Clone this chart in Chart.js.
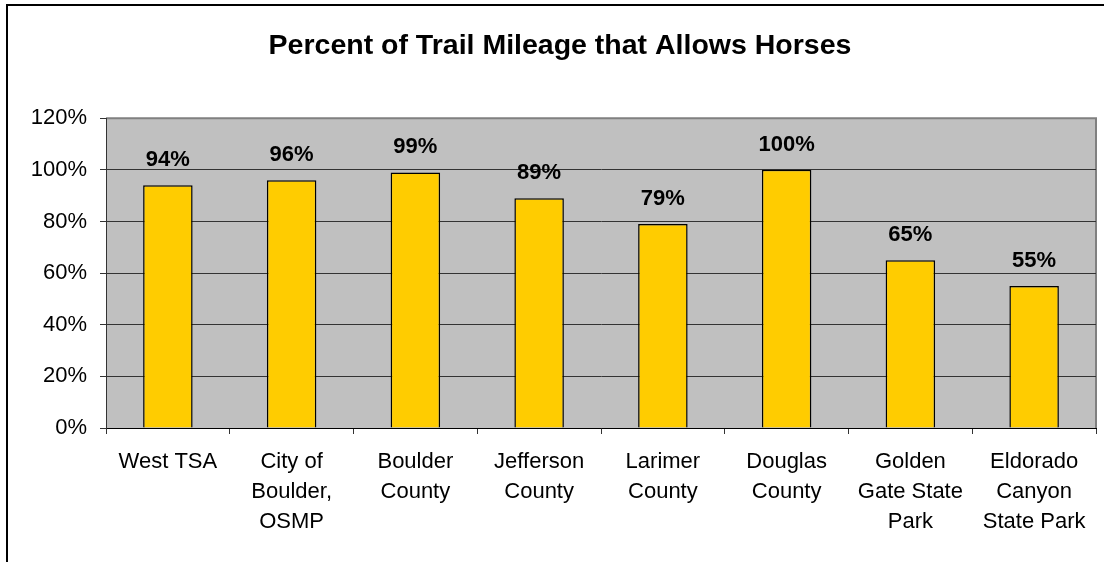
<!DOCTYPE html>
<html>
<head>
<meta charset="utf-8">
<script src="https://cdn.jsdelivr.net/npm/chart.js@4/dist/chart.umd.min.js"></script>
<style>
  body { margin: 0; background: #fff; }
  #frame { position: absolute; left: 6px; top: 4px; width: 1200px; height: 700px;
           border-left: 2px solid #000; border-top: 2px solid #000; }
  #c { position: absolute; left: 0; top: 0; }
</style>
</head>
<body>
<div id="frame"></div>
<canvas id="c" width="1104" height="562"></canvas>
<script>
// -- data --
const categories = [
  ['West TSA'],
  ['City of', 'Boulder,', 'OSMP'],
  ['Boulder', 'County'],
  ['Jefferson', 'County'],
  ['Larimer', 'County'],
  ['Douglas', 'County'],
  ['Golden', 'Gate State', 'Park'],
  ['Eldorado', 'Canyon', 'State Park']
];
const percentHorses = [94, 96, 99, 89, 79, 100, 65, 55];
const yTicks = [0, 20, 40, 60, 80, 100, 120];

Chart.defaults.font.family = '"Liberation Sans", Arial, sans-serif';
Chart.defaults.color = '#000';

// gray plot background + border
const plotBg = {
  id: 'plotBg',
  beforeDraw(chart) {
    const { ctx, chartArea: a } = chart;
    ctx.save();
    ctx.fillStyle = '#C0C0C0';
    ctx.fillRect(a.left, a.top, a.right - a.left, a.bottom - a.top);
    ctx.strokeStyle = '#808080';
    ctx.lineWidth = 2;
    ctx.beginPath();
    ctx.moveTo(a.left, a.top);
    ctx.lineTo(a.right, a.top);
    ctx.lineTo(a.right, a.bottom);
    ctx.stroke();
    ctx.restore();
  }
};

// value labels above bars
const barLabels = {
  id: 'barLabels',
  afterDatasetsDraw(chart) {
    const { ctx } = chart;
    const meta = chart.getDatasetMeta(0);
    ctx.save();
    ctx.font = 'bold 22px "Liberation Sans", Arial, sans-serif';
    ctx.fillStyle = '#000';
    ctx.textAlign = 'center';
    ctx.textBaseline = 'middle';
    meta.data.forEach((bar, i) => {
      ctx.fillText(Math.round(percentHorses[i]) + '%', bar.x, bar.y - 25);
    });
    ctx.restore();
  }
};

new Chart(document.getElementById('c'), {
  type: 'bar',
  data: {
    labels: categories,
    datasets: [{
      data: percentHorses,
      backgroundColor: '#FFCC00',
      borderColor: '#000',
      borderWidth: 1.5,
      barPercentage: 0.4,
      categoryPercentage: 1
    }]
  },
  options: {
    responsive: false,
    animation: false,
    layout: { padding: { left: 24, right: 8, bottom: 0, top: 0 } },
    plugins: {
      legend: { display: false },
      tooltip: { enabled: false },
      title: {
        display: true,
        text: 'Percent of Trail Mileage that Allows Horses',
        font: { size: 28.5, weight: 'bold', lineHeight: 1.2 },
        color: '#000',
        padding: { top: 29, bottom: 55 }
      }
    },
    scales: {
      x: {
        offset: true,
        grid: { display: true, drawOnChartArea: false, tickLength: 6, color: '#333', offset: true },
        border: { color: '#000', width: 1 },
        ticks: { font: { size: 22, lineHeight: 1.36 }, padding: 13, maxRotation: 0, autoSkip: false },
        afterFit(s) { s.height = 134; }
      },
      y: {
        min: 0,
        max: 120,
        afterBuildTicks(s) { s.ticks = yTicks.map(v => ({ value: v })); },
        grid: {
          tickLength: 6,
          color: ctx => ctx.tick && ctx.tick.value === 120 ? 'rgba(0,0,0,0)' : '#333',
          tickColor: '#333',
          lineWidth: 1
        },
        border: { color: '#333', width: 1 },
        ticks: { font: { size: 22 }, padding: 13, callback: v => v + '%' },
        afterFit(s) { s.width = 82; }
      }
    }
  },
  plugins: [plotBg, barLabels]
});
</script>
</body>
</html>
